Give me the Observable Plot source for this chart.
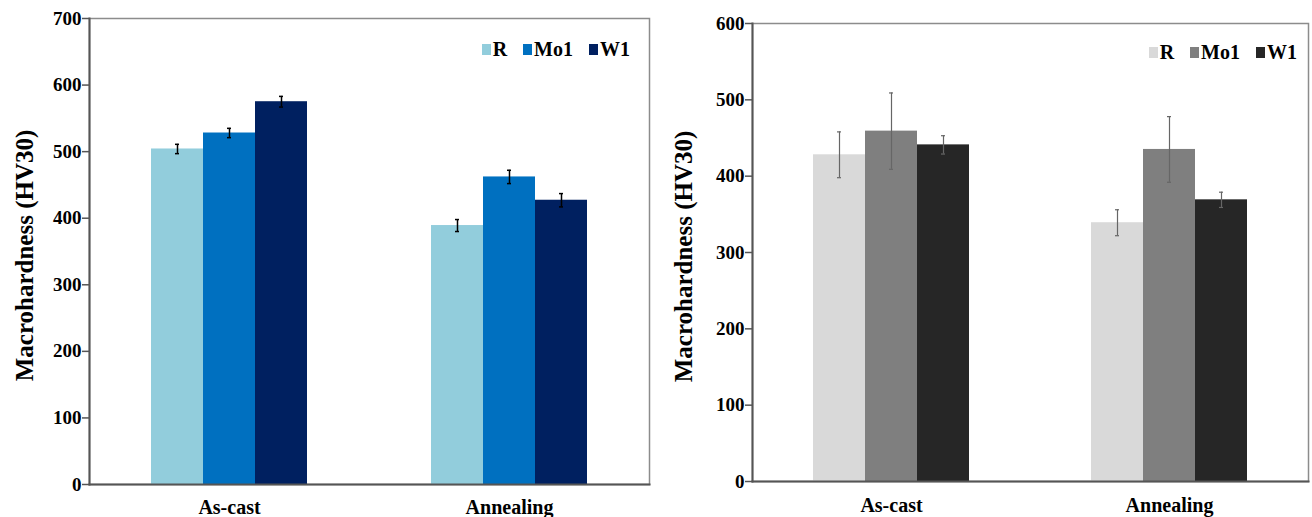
<!DOCTYPE html>
<html>
<head>
<meta charset="utf-8">
<script src="https://cdn.jsdelivr.net/npm/d3@7"></script>
<script src="https://cdn.jsdelivr.net/npm/@observablehq/plot@0.6"></script>
<style>
  html, body { margin: 0; padding: 0; background: #fff; }
  #wrap { display: flex; width: 1312px; height: 517px; }
  .panel { position: relative; width: 656px; height: 517px; }
  .legend { position: absolute; display: flex; align-items: center; font-weight: bold; font-size: 20px; line-height: 20px; color: #000; }
  .legend .sw { display: inline-block; width: 9px; height: 11px; margin-right: 2px; }
  .legend .item { display: flex; align-items: center; margin-left: 16px; }
  .legend .item:first-child { margin-left: 0; }
</style>
</head>
<body>
<div id="wrap">
  <div class="panel" id="left"></div>
  <div class="panel" id="right"></div>
</div>
<script>
// ---- data ----
const groups = ["As-cast", "Annealing"];
const series = ["R", "Mo1", "W1"];

// left chart (coloured)
const leftR = [504, 389];
const leftMo1 = [528, 462];
const leftW1 = [575, 427];
const leftRErr = [7, 9];
const leftMo1Err = [7, 10];
const leftW1Err = [8, 10];
const leftColors = ["#92CDDC", "#0070C0", "#002060"];
const leftTicks = [0, 100, 200, 300, 400, 500, 600, 700];

// right chart (grey)
const rightR = [428, 339];
const rightMo1 = [459, 435];
const rightW1 = [441, 369];
const rightRErr = [30, 17];
const rightMo1Err = [50, 43];
const rightW1Err = [12, 10];
const rightColors = ["#D9D9D9", "#7F7F7F", "#262626"];
const rightTicks = [0, 100, 200, 300, 400, 500, 600];

const yLabel = "Macrohardness (HV30)";

// pick an installed serif face (Times-like)
function hasFont(name) {
  const ctx = document.createElement("canvas").getContext("2d");
  const s = "Macrohardness (HV30) 0123456789 Mo1 W1 As-cast";
  for (const base of ["monospace", "sans-serif"]) {
    ctx.font = `bold 40px ${base}`;
    const w0 = ctx.measureText(s).width;
    ctx.font = `bold 40px '${name}', ${base}`;
    const w1 = ctx.measureText(s).width;
    if (Math.abs(w0 - w1) > 0.5) return true;
  }
  return false;
}
const serifCandidates = ["Liberation Serif", "Times New Roman", "Tinos", "DejaVu Serif", "Noto Serif", "FreeSerif", "Nimbus Roman", "Nimbus Roman No9 L", "Times"];
const found = serifCandidates.find(hasFont);
const FONT = found ? `'${found}', serif` : "serif";

function buildRows(vals, errs) {
  const rows = [];
  groups.forEach((g, gi) => {
    series.forEach((s, si) => {
      rows.push({group: g, series: s, value: vals[si][gi], err: errs[si][gi]});
    });
  });
  return rows;
}

const leftData = buildRows([leftR, leftMo1, leftW1], [leftRErr, leftMo1Err, leftW1Err]);
const rightData = buildRows([rightR, rightMo1, rightW1], [rightRErr, rightMo1Err, rightW1Err]);

function makeChart(data, cfg) {
  return Plot.plot({
    width: 656,
    height: 517,
    marginLeft: cfg.ml,
    marginRight: cfg.mr,
    marginTop: cfg.mt,
    marginBottom: cfg.mb,
    style: {fontFamily: FONT, fontWeight: "bold", fontSize: "19px", color: "#000", background: "transparent"},
    fx: {domain: groups, padding: 0, label: null},
    x: {domain: series, paddingInner: 0, paddingOuter: cfg.xpo, axis: null},
    y: {domain: [0, cfg.ticks[cfg.ticks.length - 1]]},
    color: {domain: series, range: cfg.colors},
    marks: [
      Plot.frame({facet: "super", stroke: "#8c8c8c", strokeWidth: 1.5}),
      Plot.barY(data, {fx: "group", x: "series", y: "value", fill: "series"}),
      Plot.ruleX(data, {fx: "group", x: "series", y1: d => d.value - d.err, y2: d => d.value + d.err, stroke: cfg.errColor, strokeWidth: cfg.errWidth}),
      Plot.tickY(data, {fx: "group", x: "series", y: d => d.value - d.err, stroke: cfg.errColor, strokeWidth: cfg.errWidth, insetLeft: 24, insetRight: 24}),
      Plot.tickY(data, {fx: "group", x: "series", y: d => d.value + d.err, stroke: cfg.errColor, strokeWidth: cfg.errWidth, insetLeft: 24, insetRight: 24}),
      Plot.frame({facet: "super", anchor: "left", stroke: "#555", strokeWidth: 2}),
      Plot.frame({facet: "super", anchor: "bottom", stroke: "#555", strokeWidth: 2}),
      Plot.axisY({ticks: cfg.ticks, tickSize: 7, tickPadding: 1, stroke: "#555", strokeWidth: 1.5, fontSize: 19, label: null}),
      Plot.text([yLabel], {facet: "super", text: d => d, frameAnchor: "left", textAnchor: "middle", rotate: -90, dx: cfg.ldx, dy: 4, fontSize: 25, fontWeight: "bold", fill: "#000"}),
      Plot.axisFx({anchor: "bottom", tickSize: 0, tickPadding: cfg.fxPad, fontSize: 20, label: null})
    ]
  });
}

function makeLegend(colors, right, top) {
  const div = document.createElement("div");
  div.className = "legend";
  div.style.fontFamily = FONT;
  div.style.right = right + "px";
  div.style.top = top + "px";
  series.forEach((s, i) => {
    const item = document.createElement("span");
    item.className = "item";
    const sw = document.createElement("span");
    sw.className = "sw";
    sw.style.background = colors[i];
    item.appendChild(sw);
    item.appendChild(document.createTextNode(s));
    div.appendChild(item);
  });
  return div;
}

const leftEl = document.getElementById("left");
leftEl.appendChild(makeChart(leftData, {ml: 88, mr: 7, mt: 18, mb: 33, xpo: 1.146, ticks: leftTicks, colors: leftColors, errColor: "#000", errWidth: 1.5, ldx: -65, fxPad: 15}));
leftEl.appendChild(makeLegend(leftColors, 26, 39));

const rightEl = document.getElementById("right");
rightEl.appendChild(makeChart(rightData, {ml: 96, mr: 4, mt: 23, mb: 36, xpo: 1.123, ticks: rightTicks, colors: rightColors, errColor: "#666", errWidth: 1.2, ldx: -69, fxPad: 16}));
rightEl.appendChild(makeLegend(rightColors, 15, 42));
</script>
</body>
</html>
